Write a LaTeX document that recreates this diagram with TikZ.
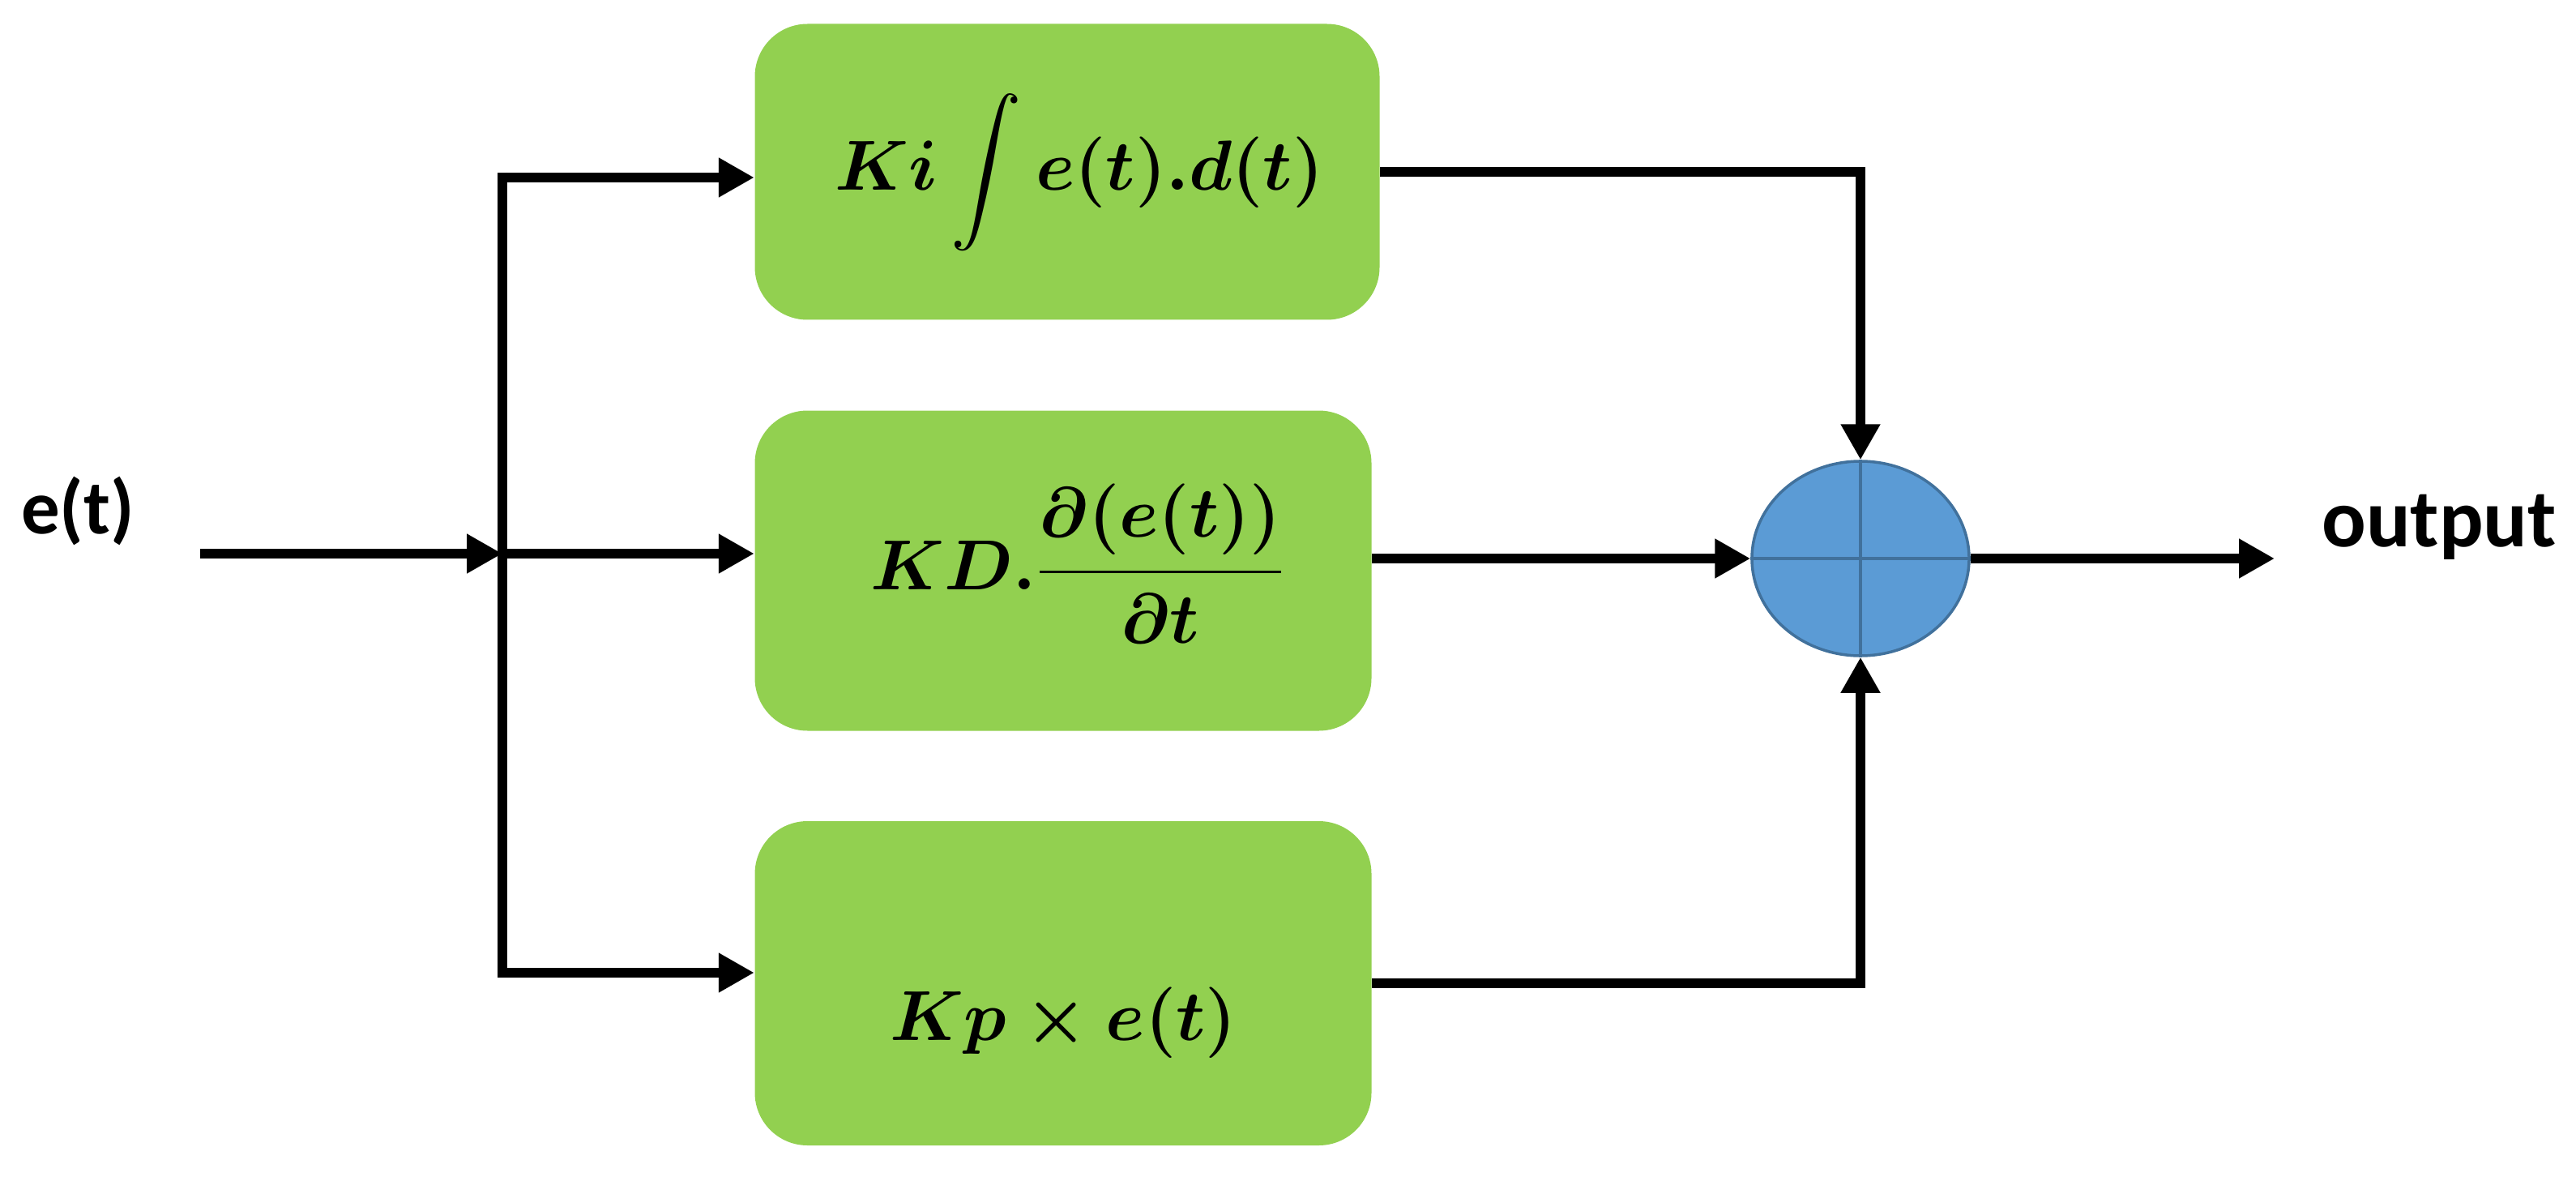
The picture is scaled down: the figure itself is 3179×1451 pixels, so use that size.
\documentclass[tikz,border=0pt]{standalone}
\usepackage{amsmath}
\usepackage{fontspec}
\newfontfamily\carlito{Carlito}
\usetikzlibrary{arrows.meta,shapes.geometric}
\definecolor{boxgreen}{HTML}{92D050}
\definecolor{sumblue}{HTML}{5B9BD5}
\definecolor{sumedge}{HTML}{41719C}
\begin{document}
\begin{tikzpicture}[x=0.1mm,y=-0.1mm,
  blk/.style={fill=boxgreen, rounded corners=6.5mm, inner sep=0pt},
  conn/.style={line width=1.2mm, -{Triangle[length=4.4mm,width=4.6mm]}},
  wire/.style={line width=1.2mm},
  lbl/.style={font=\carlito\bfseries\fontsize{27}{32}\selectfont, inner sep=0pt},
  mth/.style={font=\fontsize{25.5}{30}\selectfont\boldmath, inner sep=0pt}]
\useasboundingbox (0,0) rectangle (3179,1451);
% blocks
\node[blk, minimum width=77.1mm, minimum height=36.5mm] (b1) at (1317,212) {};
\node[blk, minimum width=76.1mm, minimum height=39.5mm] (b2) at (1312,704) {};
\node[blk, minimum width=76.1mm, minimum height=40mm] (b3) at (1312,1213) {};
\node[mth] (t1) at (1332,213) {$Ki\displaystyle\int e(t).d(t)$};
\node[mth] (t2) at (1330,695) {$KD.\dfrac{\partial(e(t))}{\partial t}$};
\node[mth] (t3) at (1312,1262) {$Kp\times e(t)$};
% summing junction
\node[ellipse, fill=sumblue, draw=sumedge, line width=0.35mm, minimum width=26.8mm, minimum height=24mm, inner sep=0pt] (sum) at (2296,689) {};
\draw[sumedge, line width=0.45mm] (sum.west) -- (sum.east) (sum.north) -- (sum.south);
% input and bus
\coordinate (in) at (247,683);
\coordinate (bt) at (620,219);
\coordinate (bm) at (620,683);
\coordinate (bb) at (620,1200);
\coordinate (out) at (2807,689);
\draw[wire] ([yshift=0.6mm]bt) -- ([yshift=-0.6mm]bb);
\draw[conn] (in) -- (bm);
\draw[conn] (bt) -- (bt -| b1.west);
\draw[conn] (bm) -- (bm -| b2.west);
\draw[conn] (bb) -- (bb -| b3.west);
% outputs to sum
\draw[conn] (b1.east) -| (sum.north);
\draw[conn] (b2.east |- sum.west) -- (sum.west);
\draw[conn] (b3.east) -| (sum.south);
\draw[conn] (sum.east) -- (out);
% labels
\node[lbl] (etl) at (96,630) {e(t)};
\node[lbl, font=\carlito\bfseries\fontsize{29}{34}\selectfont] (outl) at (3010,650) {output};
\end{tikzpicture}
\end{document}
